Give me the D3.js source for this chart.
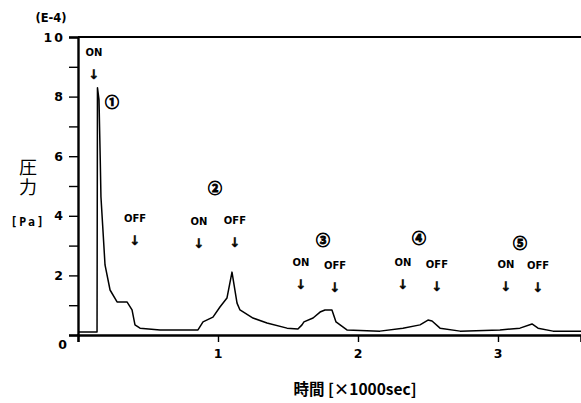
<!DOCTYPE html>
<html><head><meta charset="utf-8">
<script src="https://cdn.jsdelivr.net/npm/d3@7"></script>
<style>body{margin:0;background:#fff}svg{display:block}text{fill:#000}</style>
</head><body>
<svg id="c" width="581" height="403"></svg>
<script>
// time in units of 1000 sec, pressure in units of 1E-4 Pa
const timeK = [0,0.136,0.139,0.15,0.159,0.164,0.176,0.193,0.229,0.279,0.35,0.386,0.407,0.443,0.586,0.857,0.893,0.964,1.014,1.064,1.1,1.136,1.157,1.25,1.35,1.493,1.571,1.6,1.614,1.679,1.729,1.764,1.814,1.843,1.921,2.157,2.321,2.443,2.5,2.529,2.586,2.729,3.014,3.157,3.243,3.286,3.393,3.593];
const pressure = [0.1,0.1,8.3,7.9,5.87,4.63,3.69,2.35,1.51,1.11,1.11,0.84,0.34,0.23,0.17,0.17,0.44,0.6,0.94,1.24,2.11,1.07,0.84,0.57,0.4,0.23,0.2,0.34,0.44,0.57,0.77,0.84,0.84,0.44,0.17,0.13,0.23,0.34,0.5,0.47,0.23,0.13,0.17,0.23,0.37,0.23,0.13,0.13];
const yTickLabels = ["0","2","4","6","8","10"];
const yTickValues = [0,2,4,6,8,10];
const yMinorValues = [1,3,5,7,9];
const xTickValues = [1,2,3];
const xTickLabels = ["1","2","3"];
const eventNames = ["ON","OFF","ON","OFF","ON","OFF","ON","OFF","ON","OFF"];
const eventTimes = [0.114,0.407,0.864,1.121,1.593,1.836,2.321,2.564,3.057,3.286];
const eventLevels = [9.5,3.93,3.83,3.86,2.45,2.35,2.45,2.38,2.38,2.35];
const stageLabels = ["①","②","③","④","⑤"];
const stageTimes = [0.243,0.979,1.75,2.436,3.157];
const stageLevels = [7.82,4.93,3.19,3.26,3.09];

const svg = d3.select("#c");
const x = d3.scaleLinear().domain([0,3.593]).range([78,581]);
const y = d3.scaleLinear().domain([0,10]).range([335,37]);
const bold = "'DejaVu Sans', sans-serif";

// curve
const data = timeK.map((t,i)=>({t, v:pressure[i]}));
svg.append("path").datum(data)
  .attr("fill","none").attr("stroke","#000").attr("stroke-width",1.5).attr("stroke-linejoin","round")
  .attr("d", d3.line().x(d=>x(d.t)).y(d=>y(d.v)));

// top frame line
svg.append("line").attr("x1",x(0)).attr("x2",581).attr("y1",y(10)).attr("y2",y(10))
  .attr("stroke","#000").attr("stroke-width",2.2);

// y axis
const yAxis = d3.axisLeft(y).tickValues(yTickValues).tickSize(9).tickFormat(()=> "");
const gy = svg.append("g").attr("transform",`translate(${x(0)},0)`).call(yAxis);
gy.select(".domain").attr("stroke-width",2.4);
gy.selectAll(".tick line").attr("stroke-width",1.4);
const yMinor = d3.axisLeft(y).tickValues(yMinorValues).tickSize(9).tickFormat(()=> "");
const gy2 = svg.append("g").attr("transform",`translate(${x(0)},0)`).call(yMinor);
gy2.select(".domain").remove();
gy2.selectAll(".tick line").attr("stroke-width",1.4);

// y labels
yTickValues.forEach((v,i)=>{
  if (v===0) {
    svg.append("text").attr("x",67).attr("y",y(0)+14).attr("text-anchor","end")
      .attr("font-family",bold).attr("font-weight","bold").attr("font-size",12.5).text(yTickLabels[i]);
  } else {
    svg.append("text").attr("x",v===10?65:63).attr("y",y(v)+4.5).attr("text-anchor","end")
      .attr("font-family",bold).attr("font-weight","bold").attr("font-size",12.5)
      .attr("letter-spacing", v===10?2:0).text(yTickLabels[i]);
  }
});

// x axis
const xAxis = d3.axisBottom(x).tickValues(xTickValues).tickSize(7).tickFormat(()=> "");
const gx = svg.append("g").attr("transform",`translate(0,${y(0)})`).call(xAxis);
gx.select(".domain").attr("stroke-width",2.6);
gx.selectAll(".tick line").attr("stroke-width",1.4);
xTickValues.forEach((v,i)=>{
  svg.append("text").attr("x",x(v)).attr("y",y(0)+23).attr("text-anchor","middle")
    .attr("font-family",bold).attr("font-weight","bold").attr("font-size",12.5).text(xTickLabels[i]);
});

// axis titles
svg.append("text").attr("x",51).attr("y",22).attr("text-anchor","middle")
  .attr("font-family",bold).attr("font-weight","bold").attr("font-size",11.5).text("(E-4)");
svg.append("text").attr("x",28).attr("y",158)
  .attr("writing-mode","vertical-rl").attr("letter-spacing",2)
  .attr("font-family","'Noto Sans CJK JP', sans-serif").attr("font-size",18).text("圧力");
svg.append("text").attr("x",28).attr("y",226).attr("text-anchor","middle")
  .attr("font-family","'DejaVu Sans Mono', monospace").attr("font-weight","bold").attr("font-size",11.5)
  .attr("letter-spacing",1.8).text("[Pa]");
svg.append("text").attr("x",355).attr("y",395).attr("text-anchor","middle")
  .attr("font-family","'Noto Sans CJK JP', sans-serif").attr("font-weight","bold").attr("font-size",15.5)
  .text("時間 [×1000sec]");

// events
eventNames.forEach((n,i)=>{
  const ex = x(eventTimes[i]), ey = y(eventLevels[i]);
  svg.append("text").attr("x",ex).attr("y",ey+4).attr("text-anchor","middle")
    .attr("font-family",bold).attr("font-weight","bold").attr("font-size",10).text(n);
  svg.append("text").attr("x",ex).attr("y",ey+27).attr("text-anchor","middle")
    .attr("font-family",bold).attr("font-weight","bold").attr("font-size",13)
    .attr("fill","#000").attr("stroke","#000").attr("stroke-width",0.4).text("↓");
});
stageLabels.forEach((s,i)=>{
  svg.append("text").attr("x",x(stageTimes[i])).attr("y",y(stageLevels[i])+5).attr("text-anchor","middle")
    .attr("font-family","'Noto Sans CJK JP', 'DejaVu Sans', sans-serif").attr("font-weight","bold").attr("font-size",14)
    .attr("stroke","#000").attr("stroke-width",0.8).text(s);
});
</script>
</body></html>
